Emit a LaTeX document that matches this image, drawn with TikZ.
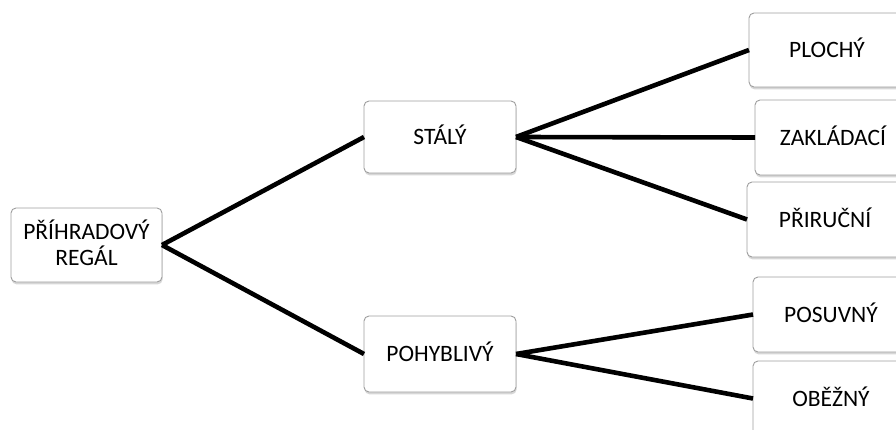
\documentclass[tikz,border=0pt]{standalone}
\usepackage{fontspec}
\setmainfont{Carlito}
\usetikzlibrary{shadows}
\begin{document}
\begin{tikzpicture}[x=1pt,y=-1pt,
  box/.style={draw=black!38, line width=0.9pt, fill=white, rounded corners=5pt,
    minimum height=75pt, inner sep=0pt, outer sep=0pt,
    font=\fontsize{23.5}{26.5}\selectfont, text height=15.2pt, text depth=0pt,
    drop shadow={fill=black!45, opacity=0.35, shadow xshift=0.6pt, shadow yshift=-2.4pt}},
  midbox/.style={box, minimum width=152pt},
  leafbox/.style={box, minimum width=156pt, anchor=west},
  conn/.style={line width=4.6pt, black}]
\useasboundingbox (0,0) rectangle (896,430);
\clip (0,0) rectangle (896,430);
\node[box, minimum width=151pt, minimum height=74pt, align=center, text height=41pt] (root) at (86.5,245) {PŘÍHRADOVÝ\\REGÁL};
\node[midbox, minimum height=72pt] (stal) at (440,137) {STÁLÝ};
\node[midbox, minimum height=76pt] (pohyb) at (440,354) {POHYBLIVÝ};
\node[leafbox, minimum height=74pt] (ploch) at (749,50) {PLOCHÝ};
\node[leafbox] (zaklad) at (755,137.5) {ZAKLÁDACÍ};
\node[leafbox] (prir) at (747,219.5) {PŘIRUČNÍ};
\node[leafbox] (posuv) at (753,314.5) {POSUVNÝ};
\node[leafbox] (obez) at (753,398.5) {OBĚŽNÝ};
\draw[conn] (root.east) -- (stal.west);
\draw[conn] (root.east) -- (pohyb.west);
\draw[conn] (stal.east) -- (ploch.west);
\draw[conn] (stal.east) -- (zaklad.west);
\draw[conn] (stal.east) -- (prir.west);
\draw[conn] (pohyb.east) -- (posuv.west);
\draw[conn] (pohyb.east) -- (obez.west);
\end{tikzpicture}
\end{document}
